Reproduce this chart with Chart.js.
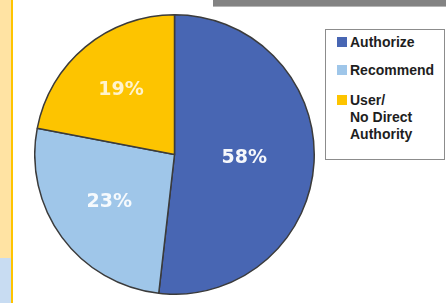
<!DOCTYPE html>
<html lang="en">
<head>
  <meta charset="UTF-8" />
  <title>Purchase authority pie</title>
  <script src="https://cdn.jsdelivr.net/npm/chart.js"></script>
  <style>
    html, body { margin: 0; padding: 0; background: #fff; }
    #page { position: relative; width: 446px; height: 303px; overflow: hidden; background: #fff; }
    #sideTop { position: absolute; left: 0; top: 0; width: 11px; height: 258px; background: #ffe3a3; }
    #sideBottom { position: absolute; left: 0; top: 258px; width: 11px; height: 45px; background: #c8dcf2; }
    #sideLine { position: absolute; left: 11px; top: 0; width: 2px; height: 303px; background: #ffc400; }
    #topBar { position: absolute; left: 213px; top: 0; width: 233px; height: 6px; background: #838383; border-bottom: 1px solid #b5b5b5; }
    #pieWrap { position: absolute; left: 34px; top: 14px; width: 281px; height: 281px; }
    #legend {
      position: absolute; left: 325px; top: 29px; width: 118px; height: 129px;
      border: 1px solid #8c8c8c; background: #fff;
      font: bold 14px "Liberation Sans", Arial, sans-serif; color: #1e1e1e;
    }
    .item { position: absolute; left: 11px; }
    .sw { position: absolute; left: 0; top: 3px; width: 10px; height: 10px; }
    .txt { position: absolute; left: 13px; top: 0; line-height: 17px; white-space: nowrap; }
  </style>
</head>
<body>
  <div id="page">
    <div id="sideTop"></div>
    <div id="sideBottom"></div>
    <div id="sideLine"></div>
    <div id="topBar"></div>
    <div id="pieWrap"><canvas id="myChart" width="281" height="281"></canvas></div>
    <div id="legend"></div>
  </div>

  <script>
    // categories, in drawing order (clockwise from 12 o'clock)
    const categories = ['Authorize', 'Recommend', ['User/', 'No Direct', 'Authority']];
    // slice sizes as drawn in the picture (the printed shares don't match the arcs)
    const sliceValues = [51.8, 26.2, 22.0];
    // percentages printed on the slices
    const sliceLabels = ['58%', '23%', '19%'];
    const colors = ['#4866b3', '#9fc6e9', '#fdc400'];

    // html legend built from the same arrays
    const legend = document.getElementById('legend');
    const legendTops = [4, 32, 62];
    categories.forEach((cat, i) => {
      const item = document.createElement('div');
      item.className = 'item';
      item.style.top = legendTops[i] + 'px';
      const sw = document.createElement('div');
      sw.className = 'sw';
      sw.style.background = colors[i];
      const txt = document.createElement('div');
      txt.className = 'txt';
      txt.innerHTML = (Array.isArray(cat) ? cat : [cat]).join('<br>');
      item.appendChild(sw);
      item.appendChild(txt);
      legend.appendChild(item);
    });

    // percent text inside the slices
    const labelRadius = [0.5, 0.58, 0.6];
    const labelAlpha = [0.95, 0.9, 0.8];
    const sliceText = {
      id: 'sliceText',
      afterDatasetsDraw(chart) {
        const c = chart.ctx;
        const arcs = chart.getDatasetMeta(0).data;
        c.save();
        c.font = 'bold 19px "DejaVu Sans", sans-serif';
        c.textAlign = 'center';
        c.textBaseline = 'middle';
        arcs.forEach((arc, i) => {
          const p = arc.getProps(['x', 'y', 'startAngle', 'endAngle', 'outerRadius'], true);
          const mid = (p.startAngle + p.endAngle) / 2;
          const r = p.outerRadius * labelRadius[i];
          c.fillStyle = 'rgba(255,255,255,' + labelAlpha[i] + ')';
          c.fillText(sliceLabels[i], p.x + Math.cos(mid) * r, p.y + Math.sin(mid) * r);
        });
        c.restore();
      }
    };

    const ctx = document.getElementById('myChart').getContext('2d');
    new Chart(ctx, {
      type: 'pie',
      data: {
        labels: categories,
        datasets: [{
          data: sliceValues,
          backgroundColor: colors,
          borderColor: '#3b3b3b',
          borderWidth: 1.5
        }]
      },
      options: {
        responsive: false,
        animation: false,
        layout: { padding: 0 },
        plugins: {
          legend: { display: false },
          tooltip: { enabled: false }
        }
      },
      plugins: [sliceText]
    });
  </script>
</body>
</html>
